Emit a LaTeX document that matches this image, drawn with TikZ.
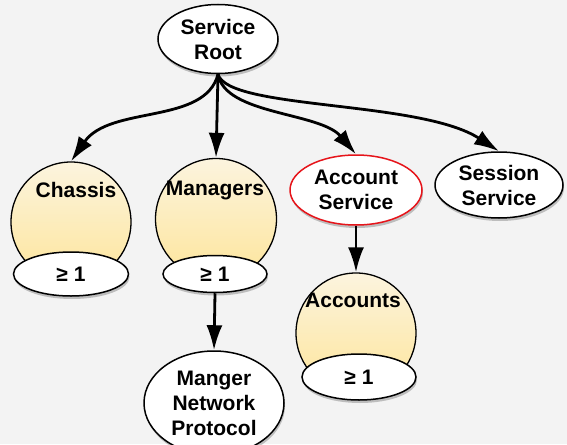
\documentclass[tikz,border=0pt]{standalone}
\usepackage{fontspec}
\setmainfont{Liberation Sans}
\usetikzlibrary{shapes.geometric,arrows.meta,shadows}
\definecolor{bg}{RGB}{243,243,243}
\definecolor{ctop}{RGB}{252,244,222}
\definecolor{cbot}{RGB}{253,229,155}
\definecolor{accred}{RGB}{230,20,26}
\tikzset{
  lbl/.style={font=\fontsize{21}{25}\selectfont\bfseries},
  shad/.style={drop shadow={shadow xshift=1pt,shadow yshift=-3pt,fill=black,opacity=0.22}},
  wnode/.style={ellipse,draw=black,line width=1.5pt,fill=white,align=center,inner sep=0pt,lbl,shad},
  coll/.style={circle,draw=black,line width=1.3pt,top color=ctop,bottom color=cbot,inner sep=0pt,minimum size=#1},
  clbl/.style={lbl,inner sep=0pt},
  conn/.style={line width=2.8pt,-{Latex[length=25pt,width=16pt]}}
}
\begin{document}
\begin{tikzpicture}[x=1pt,y=-1pt]
\fill[bg] (0,0) rectangle (567,444);
\useasboundingbox (0,0) rectangle (567,444);
% collections
\node[coll=120pt] (chassis) at (71,222) {};
\node[clbl] (chassislbl) at (76,190) {Chassis};
\node[coll=121pt] (managers) at (216,219) {};
\node[clbl] (managerslbl) at (215,190) {Managers};
\node[coll=120pt] (accounts) at (356,333) {};
\node[clbl] (accountslbl) at (353,300) {Accounts};
% count ellipses
\node[wnode,minimum width=115pt,minimum height=44pt] (chassisn) at (71,274) {≥ 1};
\node[wnode,minimum width=104pt,minimum height=37pt] (managersn) at (215,274) {≥ 1};
\node[wnode,minimum width=114pt,minimum height=46pt] (accountsn) at (359,377) {≥ 1};
% resources
\node[wnode,minimum width=120pt,minimum height=69pt] (root) at (218,39) {Service\\Root};
\node[wnode,draw=accred,minimum width=132pt,minimum height=70pt] (acct) at (356,190) {Account\\Service};
\node[wnode,minimum width=128pt,minimum height=66pt] (sess) at (499,185) {Session\\Service};
\node[wnode,minimum width=140pt,minimum height=104pt,yshift=-3pt] (mnp) at (214,400) {Manger\\Network\\Protocol};
% connectors
\draw[conn] (root.south) .. controls (205,125) and (110,105) .. (chassis.north);
\draw[conn] (root.south) -- (managers.north);
\draw[conn] (root.south) .. controls (225,115) and (320,112) .. (acct.north);
\draw[conn] (root.south) .. controls (228,110) and (420,100) .. (sess.north);
\draw[conn] (acct.south) -- (accounts.north);
\draw[conn] (managersn.south) -- (mnp.north);
\end{tikzpicture}
\end{document}
